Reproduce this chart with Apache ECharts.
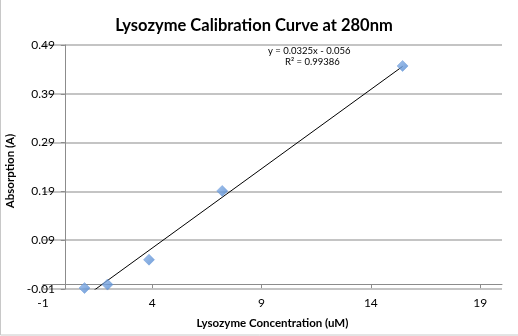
<!DOCTYPE html>
<html>
<head>
<meta charset="utf-8">
<script src="https://cdn.jsdelivr.net/npm/echarts@6/dist/echarts.min.js"></script>
<style>
  html, body { margin: 0; padding: 0; background: #fff; }
  #chart { width: 518px; height: 336px; }
</style>
</head>
<body>
<div id="chart"></div>
<script>
// Lysozyme standards: concentration (uM) vs absorbance at 280 nm
const concentration = [0.9, 1.95, 3.85, 7.2, 15.45];
const absorption = [-0.008, -0.001, 0.05, 0.191, 0.447];

// Linear trendline as reported on the chart
const slope = 0.0325;
const intercept = -0.056;
const rSquared = 0.99386;

const xTicks = { min: -1, max: 20, step: 5 };
const yTicks = { min: -0.01, max: 0.49, step: 0.1 };

const points = concentration.map((x, i) => [x, absorption[i]]);
const xLo = Math.min(...concentration);
const xHi = Math.max(...concentration);
const trend = [xLo, xHi].map(x => [x, slope * x + intercept]);

const font = 'Lato, "Open Sans", sans-serif';
const chart = echarts.init(document.getElementById('chart'), null, { renderer: 'canvas' });

chart.setOption({
  animation: false,
  backgroundColor: '#fff',
  title: {
    text: 'Lysozyme Calibration Curve at 280nm',
    left: 249,
    top: 12,
    textAlign: 'center',
    textStyle: { fontFamily: font, fontWeight: 'bold', fontSize: 16.5, color: '#000' }
  },
  grid: { left: 43, right: 16, top: 45, bottom: 47, containLabel: false, outerBoundsMode: 'none' },
  xAxis: {
    type: 'value',
    min: xTicks.min, max: xTicks.max, interval: xTicks.step,
    name: 'Lysozyme Concentration (uM)',
    nameLocation: 'middle',
    nameGap: 28,
    nameTextStyle: { fontFamily: font, fontWeight: 'bold', fontSize: 11.5, color: '#000' },
    axisLine: { onZero: true, lineStyle: { color: '#8c8c8c', width: 1 } },
    axisTick: { show: true, length: 4, lineStyle: { color: '#8c8c8c' } },
    axisLabel: { showMaxLabel: false, margin: 8, fontFamily: font, fontSize: 12, color: '#000' },
    splitLine: { show: false }
  },
  yAxis: {
    type: 'value',
    min: yTicks.min, max: yTicks.max, interval: yTicks.step,
    name: 'Absorption (A)',
    nameLocation: 'middle',
    nameGap: 27,
    nameTextStyle: { fontFamily: font, fontWeight: 'bold', fontSize: 11.5, color: '#000', padding: [0, 8, 0, 0] },
    axisLine: { onZero: true, lineStyle: { color: '#8c8c8c', width: 1 } },
    axisTick: { show: true, length: 4, lineStyle: { color: '#8c8c8c' } },
    axisLabel: {
      margin: -12, fontFamily: font, fontSize: 12, color: '#000',
      formatter: v => v.toFixed(2)
    },
    splitLine: { show: true, lineStyle: { color: '#c4c4c4', width: 2 } }
  },
  graphic: [
    {
      type: 'rect', silent: true, z: -1,
      shape: { x: 0.5, y: -5, width: 600, height: 340 },
      style: { fill: 'none', stroke: '#c8c8c8', lineWidth: 1 }
    },
    {
      type: 'text', left: 268, top: 46,
      style: { text: 'y = 0.0325x - 0.056', fontFamily: font, fontSize: 9.5, fill: '#000' }
    },
    {
      type: 'text', left: 285, top: 57,
      style: { text: 'R\u00b2 = ' + rSquared, fontFamily: font, fontSize: 9.5, fill: '#000' }
    }
  ],
  series: [
    {
      type: 'line',
      data: trend,
      symbol: 'none',
      clip: true,
      lineStyle: { color: '#000', width: 1 },
      z: 3
    },
    {
      type: 'scatter',
      data: points,
      symbol: 'diamond',
      symbolSize: [11, 11],
      clip: false,
      itemStyle: {
        color: new echarts.graphic.LinearGradient(0, 0, 1, 1, [
          { offset: 0, color: '#8db4e8' },
          { offset: 1, color: '#4f86cf' }
        ]),
        borderColor: '#5b8fd4',
        borderWidth: 0.5
      },
      z: 4
    }
  ]
});
</script>
</body>
</html>
